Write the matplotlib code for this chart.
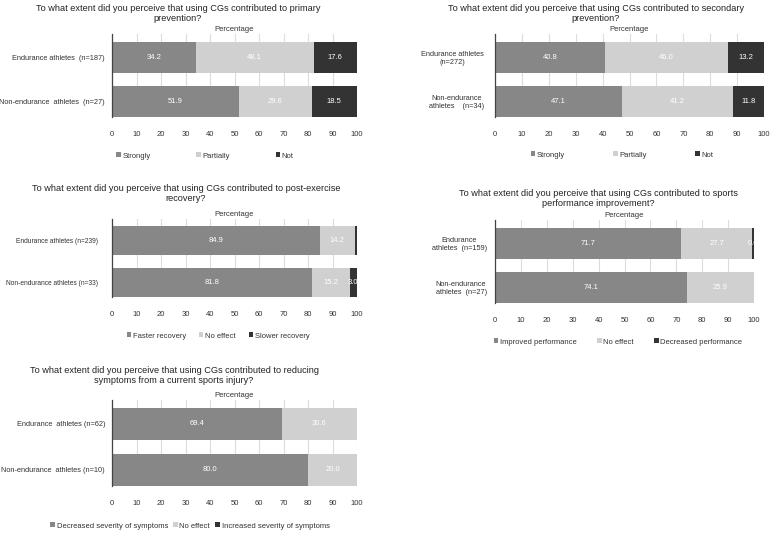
import matplotlib
matplotlib.use("Agg")
import matplotlib.pyplot as plt
from matplotlib.patches import Patch

plt.rcParams['font.family'] = ['Liberation Sans', 'DejaVu Sans']

W, H = 770, 533

# ---------------- data ----------------
titles = [
    "To what extent did you perceive that using CGs contributed to primary\nprevention?",
    "To what extent did you perceive that using CGs contributed to secondary\nprevention?",
    "To what extent did you perceive that using CGs contributed to post-exercise\nrecovery?",
    "To what extent did you perceive that using CGs contributed to sports\nperformance improvement?",
    "To what extent did you perceive that using CGs contributed to reducing\nsymptoms from a current sports injury?",
]
groups = [
    ["Endurance athletes  (n=187)", "Non-endurance  athletes  (n=27)"],
    ["Endurance athletes\n(n=272)", "Non-endurance\nathletes    (n=34)"],
    ["Endurance athletes (n=239)", "Non-endurance athletes (n=33)"],
    ["Endurance\nathletes  (n=159)", "Non-endurance\nathletes  (n=27)"],
    ["Endurance  athletes (n=62)", "Non-endurance  athletes (n=10)"],
]
series_names = [
    ["Strongly", "Partially", "Not"],
    ["Strongly", "Partially", "Not"],
    ["Faster recovery", "No effect", "Slower recovery"],
    ["Improved performance", "No effect", "Decreased performance"],
    ["Decreased severity of symptoms", "No effect", "Increased severity of symptoms"],
]
# values per panel: [first, second, third] each for [endurance, non-endurance]
first_vals = [[34.2, 51.9], [40.8, 47.1], [84.9, 81.8], [71.7, 74.1], [69.4, 80.0]]
second_vals = [[48.1, 29.6], [46.0, 41.2], [14.2, 15.2], [27.7, 25.9], [30.6, 20.0]]
third_vals = [[17.6, 18.5], [13.2, 11.8], [0.8, 3.0], [0.6, 0.0], [0.0, 0.0]]
hidden_labels = [(2, 2, 0)]  # (panel, series, group) value labels not shown
xticks = [0, 10, 20, 30, 40, 50, 60, 70, 80, 90, 100]

colors = ["#878787", "#d0d0d0", "#333333"]

# ---------------- layout (pixels) ----------------
axes_px = [  # x0, x100, ytop, ybottom
    (112, 357, 34, 117),
    (495, 764, 34, 117),
    (112, 357, 219, 297),
    (495, 754, 220, 303),
    (112, 357, 400, 486),
]
title_px = [(178, 4), (596, 4), (186, 184), (598, 189), (174, 366)]
legend_px = [(205, 156), (622, 155), (218, 336), (618, 342), (190, 526)]
legend_colsp = [6.0, 6.3, 1.7, 2.7, 0.7]
ylab_pad = [5, 8, 10, 6, 5]
ylab_size = [5.3, 5.3, 4.8, 5.3, 5.3]

fig = plt.figure(figsize=(W / 100, H / 100), dpi=100)

bar_h = 0.7
for p in range(5):
    x0, x1, yt, yb = axes_px[p]
    ax = fig.add_axes([x0 / W, 1 - yb / H, (x1 - x0) / W, (yb - yt) / H])
    vals = [first_vals[p], second_vals[p], third_vals[p]]
    ypos = [0, 1]
    left = [0.0, 0.0]
    for s in range(3):
        ax.barh(ypos, vals[s], left=left, height=bar_h, color=colors[s],
                zorder=3, linewidth=0)
        for g in range(2):
            v = vals[s][g]
            if v > 0 and (p, s, g) not in hidden_labels:
                ax.text(left[g] + v / 2, ypos[g], f"{v:.1f}", color="white",
                        ha="center", va="center", fontsize=5.5, zorder=4,
                        clip_on=True)
        left = [left[g] + vals[s][g] for g in range(2)]
    ax.set_xlim(0, 100)
    ax.set_ylim(1 + bar_h / 2, -bar_h / 2 - 0.17)
    ax.set_xticks(xticks)
    ax.set_xticklabels([str(t) for t in xticks], fontsize=5.5)
    ax.set_yticks(ypos)
    ax.set_yticklabels(groups[p], fontsize=ylab_size[p], multialignment="center")
    ax.tick_params(axis="x", length=0, pad=10, colors="#333333")
    ax.tick_params(axis="y", length=0, pad=ylab_pad[p], colors="#333333")
    ax.grid(axis="x", color="#dcdcdc", linewidth=0.8, zorder=0)
    for sp in ["top", "right", "bottom"]:
        ax.spines[sp].set_visible(False)
    ax.spines["left"].set_color("#444444")
    ax.spines["left"].set_linewidth(0.9)
    ax.spines["left"].set_zorder(5)
    ax.set_title("Percentage", fontsize=5.5, pad=2, color="#333333")

    tx, ty = title_px[p]
    fig.text(tx / W, 1 - ty / H, titles[p], ha="center", va="top",
             fontsize=6.6, color="#222222", linespacing=1.15)

    handles = [Patch(facecolor=colors[s], edgecolor="none") for s in range(3)]
    lx, ly = legend_px[p]
    fig.legend(handles, series_names[p], loc="center",
               bbox_to_anchor=(lx / W, 1 - ly / H), ncol=3, frameon=False,
               fontsize=5.5, handlelength=0.6, handleheight=0.6,
               handletextpad=0.2, columnspacing=legend_colsp[p],
               borderpad=0, labelcolor="#333333")

fig.savefig("out.png", dpi=100, facecolor="white")
